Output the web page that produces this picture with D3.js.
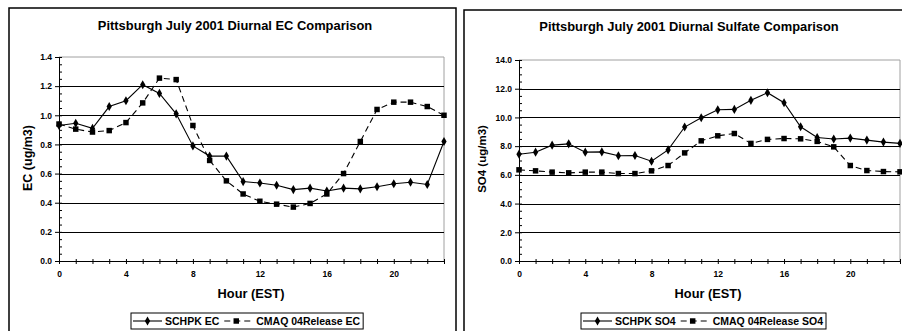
<!DOCTYPE html>
<html>
<head>
<meta charset="utf-8">
<script src="https://cdn.jsdelivr.net/npm/d3@7"></script>
<style>
  body { margin: 0; background: #fff; }
  svg { display: block; font-family: "Liberation Sans", Arial, sans-serif; font-weight: bold; }
  .grid line { stroke: #000; stroke-width: 1; }
  .axis path, .axis line { stroke: #000; }
  .axis text { font-size: 8.5px; font-weight: bold; fill: #000; }
</style>
</head>
<body>
<svg id="chart" width="902" height="331"></svg>
<script>
// hours of the day
const hours = [0, 1, 2, 3, 4, 5, 6, 7, 8, 9, 10, 11, 12, 13, 14, 15, 16, 17, 18, 19, 20, 21, 22, 23];
const hourLabels = [0, 4, 8, 12, 16, 20];

// EC (ug/m3)
const schpkEC = [0.93, 0.945, 0.91, 1.06, 1.10, 1.21, 1.15, 1.01, 0.79, 0.72, 0.72, 0.545, 0.535, 0.52, 0.49, 0.50,
  0.48, 0.50, 0.495, 0.51, 0.53, 0.54, 0.525, 0.82];
const cmaqEC = [0.94, 0.905, 0.885, 0.895, 0.95, 1.085, 1.255, 1.245, 0.93, 0.69, 0.55, 0.46, 0.41, 0.39, 0.37, 0.395,
  0.46, 0.60, 0.82, 1.04, 1.09, 1.09, 1.06, 1.00];
const ecTicks = [0, 0.2, 0.4, 0.6, 0.8, 1.0, 1.2, 1.4];

// SO4 (ug/m3)
const schpkSO4 = [7.44, 7.58, 8.07, 8.16, 7.58, 7.60, 7.33, 7.35, 6.95, 7.74, 9.33, 9.98, 10.53, 10.56, 11.19, 11.72,
  11.02, 9.35, 8.60, 8.50, 8.56, 8.42, 8.28, 8.19];
const cmaqSO4 = [6.35, 6.28, 6.19, 6.14, 6.19, 6.19, 6.09, 6.09, 6.28, 6.65, 7.53, 8.37, 8.72, 8.88, 8.19, 8.47,
  8.53, 8.51, 8.33, 7.95, 6.65, 6.30, 6.23, 6.21];
const so4Ticks = [0, 2, 4, 6, 8, 10, 12, 14];

const svg = d3.select("#chart");

function drawPanel(cfg) {
  const g = svg.append("g");

  // outer frame
  g.append("rect")
    .attr("x", cfg.frame[0]).attr("y", cfg.frame[1])
    .attr("width", cfg.frame[2]).attr("height", cfg.frame[3])
    .attr("fill", "none").attr("stroke", "#000").attr("stroke-width", 1.5);

  const x = d3.scaleLinear().domain([0, 23]).range([cfg.left, cfg.right]);
  const y = d3.scaleLinear().domain([0, cfg.ticks[cfg.ticks.length - 1]]).range([cfg.bottom, cfg.top]);

  // plot area border (top / right in grey)
  g.append("path")
    .attr("d", `M${cfg.left},${cfg.top}H${cfg.right}V${cfg.bottom}`)
    .attr("fill", "none").attr("stroke", "#a0a0a0").attr("stroke-width", 1);

  // gridlines
  g.append("g").attr("class", "grid")
    .selectAll("line")
    .data(cfg.ticks.slice(1, -1))
    .join("line")
    .attr("x1", cfg.left).attr("x2", cfg.right)
    .attr("y1", d => Math.round(y(d)) + 0.5).attr("y2", d => Math.round(y(d)) + 0.5);

  // y axis: major ticks outside, minor inside
  g.append("g").attr("class", "axis")
    .attr("transform", `translate(${cfg.left},0)`)
    .call(d3.axisLeft(y).tickValues(cfg.ticks).tickSize(4).tickPadding(3)
      .tickFormat(d3.format(".1f")));
  g.append("g").attr("class", "axis")
    .attr("transform", `translate(${cfg.left},0)`)
    .call(d3.axisRight(y).ticks(35).tickSize(3).tickFormat(""))
    .select(".domain").remove();

  // x axis: tick every hour, labels every 4
  g.append("g").attr("class", "axis")
    .attr("transform", `translate(0,${cfg.bottom})`)
    .call(d3.axisBottom(x).tickValues(hours).tickSize(3).tickPadding(7).tickSizeOuter(0)
      .tickFormat(d => hourLabels.includes(d) ? d : ""));
  g.append("g").attr("class", "axis")
    .attr("transform", `translate(0,${cfg.bottom})`)
    .call(d3.axisTop(x).tickValues(hours).tickSize(2).tickFormat(""))
    .select(".domain").remove();

  // series
  const line = d3.line().x((d, i) => x(hours[i])).y(d => y(d));
  g.append("path").datum(cfg.obs)
    .attr("d", line).attr("fill", "none").attr("stroke", "#000").attr("stroke-width", 1.1);
  g.append("path").datum(cfg.mod)
    .attr("d", line).attr("fill", "none").attr("stroke", "#000").attr("stroke-width", 1.1)
    .attr("stroke-dasharray", "6,4");

  const diamond = d3.symbol().type(d3.symbolDiamond).size(24);
  const square = d3.symbol().type(d3.symbolSquare).size(30);
  g.append("g").selectAll("path")
    .data(cfg.obs).join("path")
    .attr("d", diamond)
    .attr("transform", (d, i) => `translate(${x(hours[i])},${y(d)})`);
  g.append("g").selectAll("path")
    .data(cfg.mod).join("path")
    .attr("d", square)
    .attr("transform", (d, i) => `translate(${x(hours[i])},${y(d)})`);

  // titles
  g.append("text")
    .attr("x", cfg.titleX).attr("y", cfg.titleY)
    .attr("text-anchor", "middle").attr("font-size", 12.9)
    .text(cfg.title);
  g.append("text")
    .attr("x", cfg.xTitleX).attr("y", 298)
    .attr("text-anchor", "middle").attr("font-size", 12.8)
    .text("Hour (EST)");
  g.append("text")
    .attr("transform", `translate(${cfg.yTitleX},${cfg.yTitleY}) rotate(-90)`)
    .attr("text-anchor", "middle").attr("font-size", cfg.yTitleSize)
    .text(cfg.yTitle);

  // legend, laid out left to right from the text widths
  const lg = g.append("g").attr("transform", `translate(${cfg.legendX},313)`);
  const box = lg.append("rect")
    .attr("height", 16)
    .attr("fill", "#fff").attr("stroke", "#000").attr("stroke-width", 1);
  lg.append("line").attr("x1", 2).attr("x2", 31).attr("y1", 8).attr("y2", 8)
    .attr("stroke", "#000").attr("stroke-width", 1.1);
  lg.append("path").attr("d", diamond).attr("transform", "translate(16.5,8)");
  const t1 = lg.append("text").attr("x", 34).attr("y", 12).attr("font-size", 10.5).text(cfg.obsName);
  const dashX = 34 + t1.node().getComputedTextLength() + 5;
  lg.append("line").attr("x1", dashX).attr("x2", dashX + 30).attr("y1", 8).attr("y2", 8)
    .attr("stroke", "#000").attr("stroke-width", 1.1).attr("stroke-dasharray", "6,4");
  lg.append("path").attr("d", square).attr("transform", `translate(${dashX + 12},8)`);
  const t2 = lg.append("text").attr("x", dashX + 32).attr("y", 12).attr("font-size", 10.5).text(cfg.modName);
  box.attr("width", dashX + 32 + t2.node().getComputedTextLength() + 3);
}

drawPanel({
  frame: [9, 8, 447, 330],
  left: 59, right: 444, top: 57, bottom: 261,
  ticks: ecTicks, obs: schpkEC, mod: cmaqEC,
  title: "Pittsburgh July 2001 Diurnal EC Comparison", titleX: 235, titleY: 30,
  xTitleX: 251,
  yTitle: "EC (ug/m3)", yTitleX: 32, yTitleY: 158, yTitleSize: 12.5,
  legendX: 131,
  obsName: "SCHPK EC", modName: "CMAQ 04Release EC"
});

drawPanel({
  frame: [464, 10, 445, 330],
  left: 519, right: 900, top: 60, bottom: 261,
  ticks: so4Ticks, obs: schpkSO4, mod: cmaqSO4,
  title: "Pittsburgh July 2001 Diurnal Sulfate Comparison", titleX: 689, titleY: 31,
  xTitleX: 708,
  yTitle: "SO4 (ug/m3)", yTitleX: 486, yTitleY: 159, yTitleSize: 11.5,
  legendX: 581,
  obsName: "SCHPK SO4", modName: "CMAQ 04Release SO4"
});
</script>
</body>
</html>
